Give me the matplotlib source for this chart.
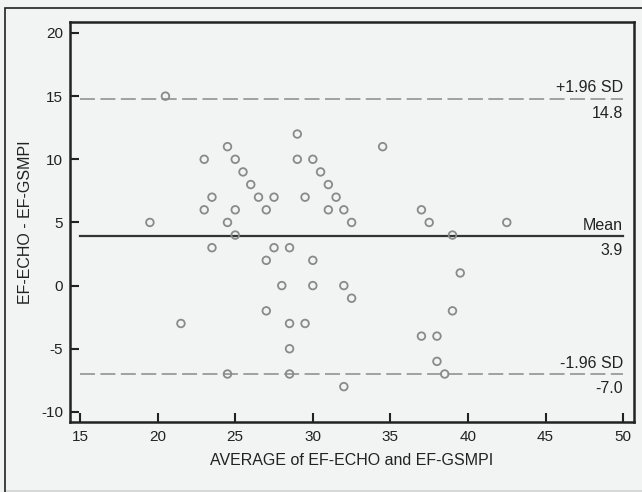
import matplotlib
matplotlib.use("Agg")
import matplotlib.pyplot as plt
from matplotlib.patches import Rectangle

plt.rcParams['font.family'] = ['Liberation Sans', 'DejaVu Sans']
plt.rcParams['axes.unicode_minus'] = False

# average of the two methods (x) and their difference (y)
avg = [20.5, 29.0, 24.5, 23.0, 25.0, 29.0, 30.0, 25.5, 30.5, 26.0,
       31.0, 23.5, 26.5, 27.5, 29.5, 31.5, 23.0, 25.0, 27.0, 31.0,
       32.0, 19.5, 24.5, 32.5, 25.0, 23.5, 27.5, 28.5, 27.0, 30.0,
       28.0, 30.0, 32.0, 32.5, 27.0, 21.5, 28.5, 29.5, 28.5, 24.5,
       28.5, 32.0, 34.5, 37.0, 37.5, 42.5, 39.0, 39.5, 39.0, 37.0,
       38.0, 38.0, 38.5]
diff = [15, 12, 11, 10, 10, 10, 10, 9, 9, 8,
        8, 7, 7, 7, 7, 7, 6, 6, 6, 6,
        6, 5, 5, 5, 4, 3, 3, 3, 2, 2,
        0, 0, 0, -1, -2, -3, -3, -3, -5, -7,
        -7, -8, 11, 6, 5, 5, 4, 1, -2, -4,
        -4, -6, -7]

mean_diff = 3.9
upper_loa = 14.8
lower_loa = -7.0

fig = plt.figure(figsize=(6.42, 4.92), dpi=100)
fig.patch.set_facecolor('#f2f3f3')
# outer frame of the picture: dark left/top edge, pale strip at the bottom
fig.patches.append(Rectangle((5 / 642, -0.2), 1.2, 1.2 - 8 / 492,
                             transform=fig.transFigure, fill=False,
                             edgecolor='#222222', linewidth=1.2))
fig.patches.append(Rectangle((5.6 / 642, 0), 1.2, 2.5 / 492,
                             transform=fig.transFigure, facecolor='#d6d7d7',
                             edgecolor='none'))

ax = fig.add_axes([70 / 642, 1 - 422 / 492, 564 / 642, 400 / 492])
ax.set_facecolor('#f2f3f3')

ax.scatter(avg, diff, s=30, facecolors='none', edgecolors='#8a8a8a',
           linewidths=1.3, zorder=3)

ax.plot([15, 50], [mean_diff, mean_diff], color='#333333', lw=1.6, zorder=2)
for v in (upper_loa, lower_loa):
    ax.plot([15, 50], [v, v], color='#a0a0a0', lw=1.4,
            dashes=(7.7, 2.8), zorder=2)

lab = dict(ha='right', fontsize=11.5, color='#222222', textcoords='offset points')
ax.annotate('+1.96 SD', (50, upper_loa), xytext=(0, 2.5), va='bottom', **lab)
ax.annotate('14.8', (50, upper_loa), xytext=(0, -5), va='top', **lab)
ax.annotate('Mean', (50, mean_diff), xytext=(0, 2.5), va='bottom', **lab)
ax.annotate('3.9', (50, mean_diff), xytext=(0, -5), va='top', **lab)
ax.annotate('-1.96 SD', (50, lower_loa), xytext=(0, 2.5), va='bottom', **lab)
ax.annotate('-7.0', (50, lower_loa), xytext=(0, -5), va='top', **lab)

ax.set_xlim(14.35, 50.7)
ax.set_ylim(-10.8, 20.87)
ax.set_xticks(range(15, 51, 5))
ax.set_yticks(range(-10, 21, 5))

for sp in ax.spines.values():
    sp.set_linewidth(1.8)
    sp.set_color('#222222')
ax.tick_params(direction='in', length=6.5, width=1.5, color='#222222',
               labelsize=11, labelcolor='#222222')
ax.tick_params(axis='x', pad=6)
ax.tick_params(axis='y', pad=5)

ax.set_xlabel('AVERAGE of EF-ECHO and EF-GSMPI', fontsize=11.5,
              color='#222222', labelpad=6)
ax.set_ylabel('EF-ECHO - EF-GSMPI', fontsize=11.5, color='#222222',
              labelpad=6)

fig.savefig('out.png', dpi=100, facecolor=fig.get_facecolor())
